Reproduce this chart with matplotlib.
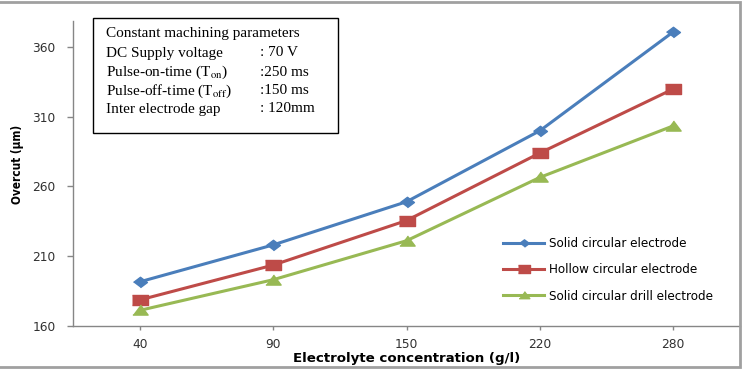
import numpy as np
import matplotlib
matplotlib.use("Agg")
import matplotlib.pyplot as plt
from matplotlib.patches import Rectangle

# data
concentration = ["40", "90", "150", "220", "280"]
solid = [191.5, 218, 249, 300, 371]
hollow = [178.5, 203.5, 235.5, 284, 330]
drill = [171, 193, 221, 266.5, 303.5]
series_names = ["Solid circular electrode", "Hollow circular electrode",
                "Solid circular drill electrode"]
yticks = [160, 210, 260, 310, 360]

params_left = ["DC Supply voltage", r"Pulse-on-time (T$_{\rm on}$)",
               r"Pulse-off-time (T$_{\rm off}$)", "Inter electrode gap"]
params_right = [": 70 V", ":250 ms", ":150 ms", ": 120mm"]

plt.rcParams['mathtext.fontset'] = 'stix'

W, H = 746, 374
fig = plt.figure(figsize=(W/100, H/100), dpi=100)
ax = fig.add_axes([73/W, 1-325.7/H, (740-73)/W, (325.7-20.7)/H])

# wide markers, the original picture is stretched sideways
diamond = [(-1, 0), (0, 0.75), (1, 0), (0, -0.75)]
rect = [(-1, -0.62), (1, -0.62), (1, 0.62), (-1, 0.62)]
tri = [(-1, -0.6), (1, -0.6), (0, 0.72)]

x = np.arange(len(concentration))
ax.plot(x, solid, color='#4a7ebb', lw=2.2, marker=diamond, ms=10,
        label=series_names[0])
ax.plot(x, hollow, color='#be4b48', lw=2.2, marker=rect, ms=12,
        label=series_names[1])
ax.plot(x, drill, color='#98b954', lw=2.2, marker=tri, ms=11,
        label=series_names[2])

ax.set_xlim(-0.5, len(concentration)-0.5)
ax.set_ylim(160, 379)
ax.set_xticks(x)
ax.set_xticklabels(concentration)
ax.set_yticks(yticks)

for s in ['top', 'right']:
    ax.spines[s].set_visible(False)
for s in ['left', 'bottom']:
    ax.spines[s].set_color('#868686')
    ax.spines[s].set_linewidth(1)
ax.tick_params(axis='y', length=4.5, width=1, color='#868686', pad=8,
               labelsize=8.8, labelcolor='#303030')
ax.tick_params(axis='x', length=3, width=1, color='#868686', pad=6,
               labelsize=8.8, labelcolor='#303030')

ax.set_xlabel("Electrolyte concentration (g/l)", fontsize=9.6,
              fontweight='bold', va='top')
ax.xaxis.set_label_coords(0.5, -0.086)
ax.set_ylabel("Overcut (µm)", fontsize=8.5, fontweight='bold',
              fontstretch='condensed')
ax.yaxis.set_label_coords(-0.073, 0.53)

leg = ax.legend(loc='upper left', bbox_to_anchor=(0.645, 0.29), frameon=False,
                prop={'size': 9.5, 'stretch': 'condensed'}, handlelength=3.1,
                handletextpad=0.35, labelspacing=1.0, markerscale=0.7,
                borderpad=0, borderaxespad=0)

# box with the machining parameters
fig.add_artist(Rectangle((92.7/W, 1-133.3/H), (338.3-92.7)/W, 115/H,
                         transform=fig.transFigure, facecolor='white',
                         edgecolor='black', lw=1, zorder=5))
tfont = dict(family='Liberation Serif', fontsize=11, va='center', zorder=6)
fig.text(106/W, 1-34/H, "Constant machining parameters", **tfont)
rows = [53, 72, 91, 109]
for i in range(len(params_left)):
    fig.text(106/W, 1-rows[i]/H, params_left[i], **tfont)
    fig.text(260/W, 1-rows[i]/H, params_right[i], **tfont)

# grey outer frame
fig.add_artist(Rectangle((-0.01, 1-367/H), 740/W+0.01, 365/H,
                         transform=fig.transFigure, facecolor='none',
                         edgecolor='#a0a0a0', lw=2))

fig.savefig("out.png", dpi=100)
